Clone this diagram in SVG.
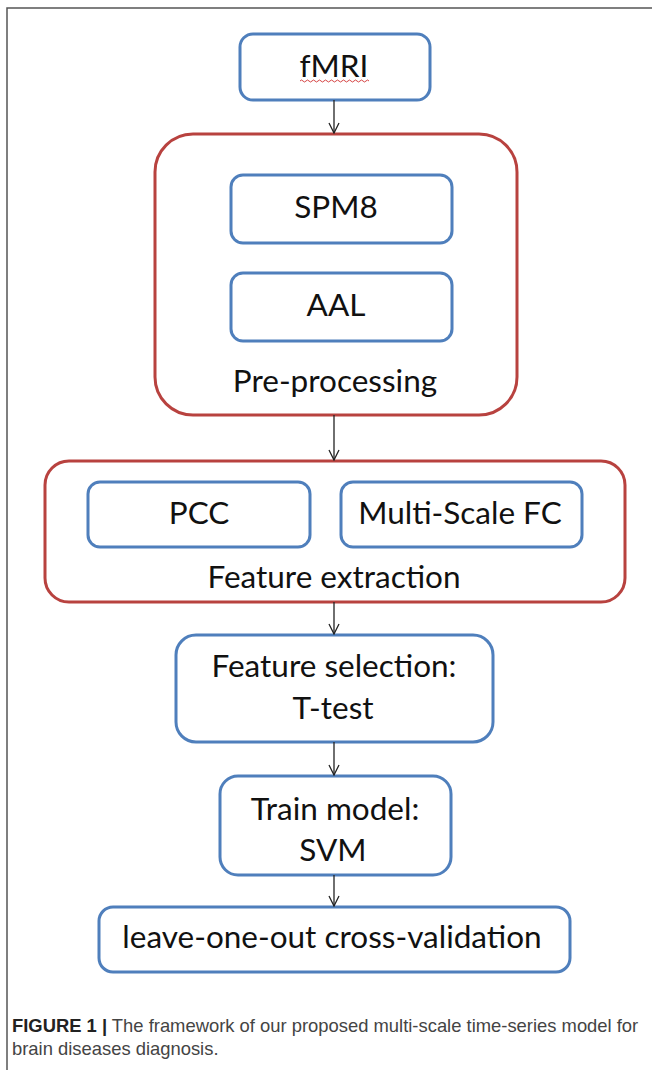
<svg xmlns="http://www.w3.org/2000/svg" width="652" height="1070" viewBox="0 0 652 1070">
<defs>
<marker id="arr" viewBox="0 0 12 12" refX="11" refY="6" markerWidth="12" markerHeight="12" markerUnits="userSpaceOnUse" orient="auto">
<path d="M1,1 L11,6 L1,11" fill="none" stroke="#222" stroke-width="1.3"/>
</marker>
<style>
.blue{fill:#fff;stroke:#4f7fbc;stroke-width:3}
.red{fill:#fff;stroke:#b8423f;stroke-width:3}
.lbl{font-family:Lato,"Open Sans",sans-serif;font-size:31.5px;fill:#111;text-anchor:middle}
.cap{font-family:"Liberation Sans",Arial,sans-serif;font-size:18.4px;fill:#444}
.con{stroke:#222;stroke-width:1.3;fill:none}
</style>
</defs>
<rect width="652" height="1070" fill="#fff"/>
<path d="M7,1070 L7,8 L652,8" fill="none" stroke="#555" stroke-width="1.5"/>

<g id="fmri">
<rect class="blue" x="240" y="34" width="190" height="66" rx="13"/>
<text class="lbl" x="334" y="77">fMRI</text>
<path d="M300,81 q1.5,-2 3,0 t3,0 t3,0 t3,0 t3,0 t3,0 t3,0 t3,0 t3,0 t3,0 t3,0 t3,0 t3,0 t3,0 t3,0 t3,0 t3,0 t3,0 t3,0 t3,0 t3,0 t3,0 t3,0" fill="none" stroke="#d03030" stroke-width="0.9"/>
</g>

<g id="preprocessing">
<rect class="red" x="155" y="134" width="362" height="281" rx="38"/>
<text class="lbl" x="335" y="392">Pre-processing</text>
</g>
<g id="spm8">
<rect class="blue" x="231" y="175" width="221" height="68" rx="12"/>
<text class="lbl" x="336" y="218">SPM8</text>
</g>
<g id="aal">
<rect class="blue" x="231" y="273" width="221" height="68" rx="12"/>
<text class="lbl" x="336" y="316">AAL</text>
</g>

<g id="feature-extraction">
<rect class="red" x="45" y="461" width="580" height="141" rx="24"/>
<text class="lbl" x="334" y="588">Feature extraction</text>
</g>
<g id="pcc">
<rect class="blue" x="88" y="482" width="222" height="65" rx="12"/>
<text class="lbl" x="199" y="524">PCC</text>
</g>
<g id="msfc">
<rect class="blue" x="341" y="482" width="241" height="65" rx="12"/>
<text class="lbl" x="460" y="524">Multi-Scale FC</text>
</g>

<g id="feature-selection">
<rect class="blue" x="176" y="635" width="317" height="107" rx="20"/>
<text class="lbl" x="334" y="677">Feature selection:</text>
<text class="lbl" x="333" y="719">T-test</text>
</g>

<g id="train-model">
<rect class="blue" x="220" y="776" width="231" height="99" rx="18"/>
<text class="lbl" x="335" y="820">Train model:</text>
<text class="lbl" x="333" y="861">SVM</text>
</g>

<g id="loocv">
<rect class="blue" x="99" y="907" width="471" height="65" rx="14"/>
<text class="lbl" x="332" y="948">leave-one-out cross-validation</text>
</g>

<g id="connectors">
<line class="con" x1="334" y1="100" x2="334" y2="133" marker-end="url(#arr)"/>
<line class="con" x1="334" y1="415" x2="334" y2="460" marker-end="url(#arr)"/>
<line class="con" x1="334" y1="602" x2="334" y2="634" marker-end="url(#arr)"/>
<line class="con" x1="334" y1="742" x2="334" y2="775" marker-end="url(#arr)"/>
<line class="con" x1="334" y1="875" x2="334" y2="906" marker-end="url(#arr)"/>
</g>

<g id="caption">
<text class="cap" x="12" y="1032"><tspan font-weight="bold" fill="#222">FIGURE 1 |</tspan> The framework of our proposed multi-scale time-series model for</text>
<text class="cap" x="12" y="1055">brain diseases diagnosis.</text>
</g>
</svg>
